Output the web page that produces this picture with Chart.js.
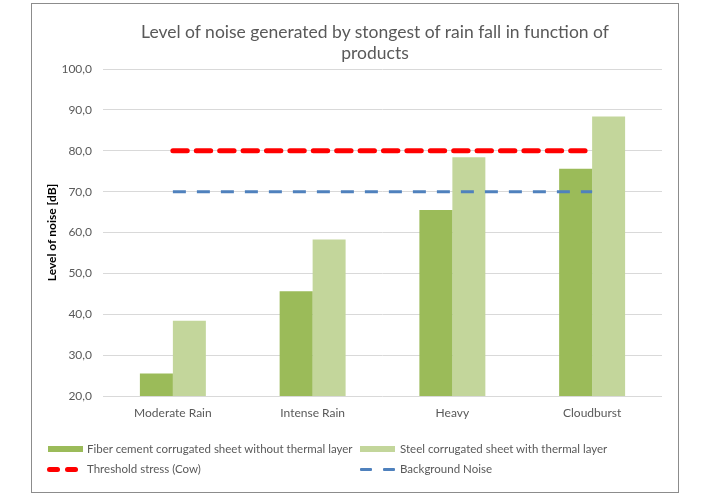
<!DOCTYPE html>
<html>
<head>
<meta charset="utf-8">
<script src="https://cdn.jsdelivr.net/npm/chart.js@4.4.0/dist/chart.umd.min.js"></script>
<style>
    body { margin: 0; background: #fff; }
    #wrap { position: relative; width: 710px; height: 495px; font-family: Lato, "Open Sans", sans-serif; }
    #chart { position: absolute; left: 0; top: 0; }
    #frame { position: absolute; left: 31px; top: 3px; width: 646px; height: 488px; border: 1px solid #8c8c8c; pointer-events: none; }
    #title { position: absolute; left: 0; width: 750px; top: 21px; text-align: center; font-size: 17.5px; line-height: 21px; color: #595959; }
    .leg-item { position: absolute; height: 16px; font-size: 11.5px; line-height: 16px; color: #595959; white-space: nowrap; }
    .leg-sym { position: absolute; }
</style>
</head>
<body>
<div id="wrap">
    <canvas id="chart" width="710" height="495"></canvas>
    <div id="frame"></div>
    <div id="title">Level of noise generated by stongest of rain fall in function of<br>products</div>
    <div id="legend"></div>
</div>
<script>
const categories = ['Moderate Rain', 'Intense Rain', 'Heavy', 'Cloudburst'];
const fiberCement = [25.5, 45.6, 65.5, 75.6];
const steelSheet = [38.4, 58.3, 78.4, 88.4];
const thresholdStress = [80, 80, 80, 80];
const backgroundNoise = [70, 70, 70, 70];

const yMin = 20;
const yMax = 100;
const yStep = 10;

const seriesLabels = [
    'Fiber cement corrugated sheet without thermal layer',
    'Steel corrugated sheet with thermal layer',
    'Threshold stress (Cow)',
    'Background Noise'
];

const colors = {
    fiber: '#9BBB59',
    steel: '#C3D69B',
    threshold: '#FF0000',
    background: '#4F81BD'
};

const ctx = document.getElementById('chart').getContext('2d');
const chart = new Chart(ctx, {
    type: 'bar',
    data: {
        labels: categories,
        datasets: [
            {
                label: seriesLabels[0],
                data: fiberCement,
                backgroundColor: colors.fiber,
                order: 2
            },
            {
                label: seriesLabels[1],
                data: steelSheet,
                backgroundColor: colors.steel,
                order: 2
            },
            {
                type: 'line',
                label: seriesLabels[2],
                data: thresholdStress,
                borderColor: colors.threshold,
                borderWidth: 5,
                borderDash: [14.4, 9],
                borderCapStyle: 'round',
                pointRadius: 0,
                fill: false,
                order: 1
            },
            {
                type: 'line',
                label: seriesLabels[3],
                data: backgroundNoise,
                borderColor: colors.background,
                borderWidth: 3,
                borderDash: [13, 11],
                pointRadius: 0,
                fill: false,
                order: 0
            }
        ]
    },
    options: {
        responsive: false,
        devicePixelRatio: 1,
        animation: false,
        layout: { padding: { left: 0, right: 48, top: 69, bottom: 69 } },
        datasets: {
            bar: { barPercentage: 1, categoryPercentage: 0.472 }
        },
        scales: {
            x: {
                grid: { display: false, drawTicks: false },
                border: { display: false },
                ticks: { padding: 10, color: '#595959', font: { family: 'Lato', size: 12 } },
                afterFit: (scale) => { scale.height = 30; }
            },
            y: {
                min: yMin,
                max: yMax,
                grid: { color: '#D9D9D9', lineWidth: 1, drawTicks: false },
                border: { display: false },
                ticks: {
                    stepSize: yStep,
                    padding: 11,
                    color: '#595959',
                    font: { family: 'Lato', size: 12 },
                    callback: (v) => v.toFixed(1).replace('.', ',')
                },
                title: {
                    display: true,
                    text: 'Level of noise [dB]',
                    color: '#000',
                    font: { family: 'Lato', size: 12, weight: 'bold' },
                    padding: { top: 45, bottom: 0 }
                },
                afterFit: (scale) => { scale.width = 103; }
            }
        },
        plugins: {
            legend: { display: false },
            tooltip: { enabled: false }
        }
    }
});

// Excel-style two column legend below the plot
const legendPos = [
    { x: 48, y: 441, textX: 87 },
    { x: 360, y: 441, textX: 400 },
    { x: 47, y: 461, textX: 87 },
    { x: 360, y: 461, textX: 400 }
];
const legendBox = document.getElementById('legend');
chart.data.datasets.forEach((ds, i) => {
    const p = legendPos[i];
    const item = document.createElement('div');
    item.className = 'leg-item';
    item.style.left = p.textX + 'px';
    item.style.top = p.y + 'px';
    item.textContent = ds.label;
    legendBox.appendChild(item);

    if (ds.type === 'line') {
        const w = ds.borderWidth;
        const round = ds.borderCapStyle === 'round';
        const dashLen = round ? 13 : 12;
        const gap = round ? 5 : 11;
        [0, dashLen + gap].forEach(off => {
            const s = document.createElement('div');
            s.className = 'leg-sym';
            s.style.left = (p.x + off) + 'px';
            s.style.top = (p.y + 8 - w / 2) + 'px';
            s.style.width = dashLen + 'px';
            s.style.height = w + 'px';
            s.style.background = ds.borderColor;
            s.style.borderRadius = round ? (w / 2) + 'px' : '1px';
            legendBox.appendChild(s);
        });
    } else {
        const s = document.createElement('div');
        s.className = 'leg-sym';
        s.style.left = p.x + 'px';
        s.style.top = (p.y + 5) + 'px';
        s.style.width = '35px';
        s.style.height = '6px';
        s.style.background = ds.backgroundColor;
        legendBox.appendChild(s);
    }
});
</script>
</body>
</html>
